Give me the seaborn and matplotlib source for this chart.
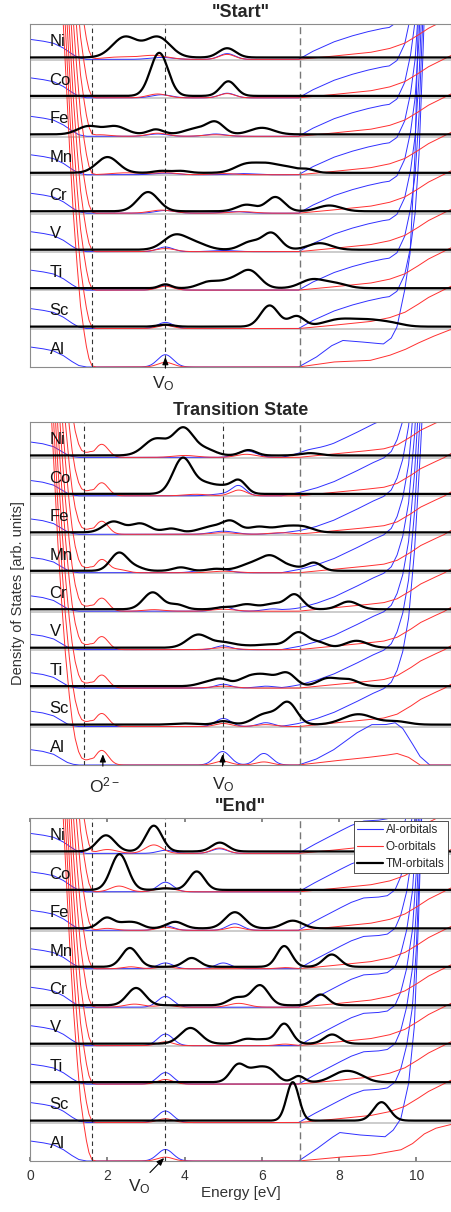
import numpy as np
import pandas as pd
import matplotlib
matplotlib.use("Agg")
import matplotlib.pyplot as plt
from matplotlib.lines import Line2D
import seaborn as sns

sns.set_theme(style="white")
plt.rcParams["font.family"] = ["Liberation Sans", "DejaVu Sans"]
plt.rcParams["mathtext.default"] = "regular"

ELEMENTS = ["Ni", "Co", "Fe", "Mn", "Cr", "V", "Ti", "Sc", "Al"]
TITLES = ['"Start"', "Transition State", '"End"']
ENERGY_TICKS = [0, 2, 4, 6, 8, 10]
MARKERS = [[1.6, 3.5, 7.0], [1.4, 5.0, 7.0], [1.6, 3.5, 7.0]]

# band edges (energy in eV, DOS in row units), one list per panel
VB_AL_E = [[0, 0.3, 0.6, 0.85, 1.05, 1.25, 1.45],
           [0, 0.3, 0.6, 0.8, 0.95, 1.1, 1.25],
           [0, 0.3, 0.6, 0.85, 1.05, 1.25, 1.45]]
VB_AL_H = [[0.52, 0.48, 0.42, 0.3, 0.16, 0.04, 0],
           [0.4, 0.36, 0.28, 0.16, 0.07, 0.02, 0],
           [0.52, 0.48, 0.42, 0.3, 0.16, 0.04, 0]]
VB_O_E = [[0.8, 0.9, 1.0, 1.1, 1.2, 1.3, 1.38, 1.45, 1.52, 1.6, 1.7],
          [0.5, 0.6, 0.7, 0.8, 0.9, 1.0, 1.08, 1.16, 1.25, 1.33, 1.42, 1.55, 1.65],
          [0.8, 0.9, 1.0, 1.1, 1.2, 1.3, 1.38, 1.45, 1.52, 1.6, 1.7]]
VB_O_H = [[10, 8, 6, 4.2, 2.8, 1.6, 1.0, 0.55, 0.22, 0.03, 0],
          [10, 8, 6, 4.4, 3.0, 1.9, 1.2, 0.7, 0.35, 0.18, 0.12, 0.08, 0],
          [10, 8, 6, 4.2, 2.8, 1.6, 1.0, 0.55, 0.22, 0.03, 0]]
CB_AL_E = [[6.95, 7.3, 7.85, 8.3, 8.7, 9.1, 9.3, 9.5, 9.7, 9.85, 9.97, 10.07, 10.17, 10.3],
           [6.5, 6.95, 7.4, 7.85, 8.4, 8.85, 9.15, 9.35, 9.5, 9.65, 9.8, 9.95, 10.1, 10.3],
           [6.95, 7.3, 7.85, 8.3, 8.63, 9.0, 9.25, 9.45, 9.6, 9.75, 9.9, 10.0, 10.1, 10.25]]
CB_AL_H = [[0, 0.2, 0.45, 0.6, 0.71, 0.8, 0.83, 0.97, 1.4, 2.1, 3.0, 4.5, 7, 11],
           [0, 0.08, 0.2, 0.36, 0.62, 0.85, 0.98, 1.15, 1.45, 1.95, 2.8, 4.5, 7, 11],
           [0, 0.2, 0.49, 0.72, 0.84, 0.86, 0.9, 1.05, 1.4, 2.0, 3.0, 4.5, 7, 11]]
CB_AL_BOTTOM_E = [[6.95, 7.4, 7.8, 8.1, 8.5, 8.9, 9.15, 9.35, 9.5, 9.7, 9.84, 9.97, 10.05, 10.2],
                  [6.95, 7.4, 7.85, 8.45, 8.85, 9.2, 9.45, 9.65, 9.84, 10.1, 10.35],
                  [6.95, 7.4, 7.8, 8.02, 8.5, 9.19, 9.4, 9.6, 9.8, 9.95, 10.05, 10.2]]
CB_AL_BOTTOM_H = [[0, 0.25, 0.55, 0.69, 0.66, 0.62, 0.6, 0.75, 1.04, 2.0, 2.96, 5.6, 9, 13],
                  [0, 0.15, 0.39, 0.83, 1.05, 1.05, 1.1, 0.95, 0.65, 0.22, 0],
                  [0, 0.3, 0.6, 0.74, 0.68, 0.63, 0.8, 1.1, 2.0, 3.5, 6, 11]]
CB_O_E = [[6.95, 7.5, 8.2, 8.8, 9.3, 9.7, 10.0, 10.3, 10.6, 10.9],
          [6.95, 7.85, 8.5, 9.15, 9.5, 9.84, 10.1, 10.45, 10.7, 10.9],
          [6.95, 7.5, 8.2, 8.8, 9.3, 9.7, 10.0, 10.3, 10.6, 10.9]]
CB_O_H = [[0, 0.05, 0.12, 0.18, 0.28, 0.42, 0.6, 0.8, 0.95, 1.1],
          [0, 0.09, 0.15, 0.22, 0.32, 0.52, 0.7, 0.87, 0.98, 1.1],
          [0, 0.05, 0.12, 0.18, 0.28, 0.42, 0.6, 0.8, 0.95, 1.1]]
CB_O_BOTTOM_E = [[6.95, 7.85, 8.8, 9.3, 9.7, 10.0, 10.4, 10.85, 10.9],
                 [6.95, 7.8, 8.6, 9.2, 9.5, 9.8, 10.1],
                 [6.95, 8.0, 8.8, 9.6, 9.9, 10.2, 10.5, 10.9]]
CB_O_BOTTOM_H = [[0, 0.13, 0.17, 0.3, 0.45, 0.6, 0.78, 0.96, 0.97],
                 [0, 0.1, 0.18, 0.25, 0.3, 0.2, 0],
                 [0, 0.1, 0.15, 0.29, 0.45, 0.7, 0.85, 0.95]]

# gap states per row (Ni ... Al): (energy, height, width)
START_TM = [
    [(2.45, 0.53, 0.32), (3.3, 0.53, 0.32), (5.1, 0.24, 0.22)],
    [(3.34, 1.12, 0.23), (5.13, 0.38, 0.2)],
    [(1.5, 0.21, 0.28), (2.2, 0.21, 0.28), (3.25, 0.13, 0.2), (4.3, 0.15, 0.3), (4.8, 0.3, 0.22), (6.0, 0.17, 0.3)],
    [(2.0, 0.41, 0.28), (3.4, 0.05, 0.2), (3.9, 0.05, 0.2), (5.6, 0.22, 0.3), (6.2, 0.22, 0.3), (6.7, 0.1, 0.2), (7.15, 0.1, 0.2)],
    [(3.05, 0.5, 0.27), (5.6, 0.17, 0.25), (6.35, 0.37, 0.23), (7.75, 0.15, 0.3)],
    [(3.75, 0.37, 0.3), (4.3, 0.15, 0.3), (5.7, 0.2, 0.25), (6.25, 0.43, 0.23), (7.5, 0.17, 0.3)],
    [(3.5, 0.1, 0.15), (4.6, 0.15, 0.25), (5.2, 0.2, 0.3), (5.7, 0.42, 0.26), (7.3, 0.22, 0.3), (7.9, 0.12, 0.3)],
    [(3.5, 0.05, 0.2), (6.2, 0.55, 0.23), (6.9, 0.27, 0.2), (8.0, 0.18, 0.4), (8.8, 0.16, 0.4), (9.4, 0.06, 0.3)],
    [],
]
START_AL = [
    [(3.4, 0.05, 0.3), (5.1, 0.15, 0.2)],
    [(3.4, 0.08, 0.25), (5.1, 0.12, 0.2)],
    [(3.3, 0.06, 0.25), (4.8, 0.06, 0.25)],
    [(3.5, 0.04, 0.3), (5.5, 0.03, 0.3)],
    [(3.5, 0.07, 0.25), (5.3, 0.04, 0.3)],
    [(3.5, 0.12, 0.2), (5.0, 0.03, 0.3)],
    [(3.5, 0.13, 0.2)],
    [(3.5, 0.16, 0.2)],
    [(3.5, 0.32, 0.2)],
]
START_O = [
    [(2.3, 0.06, 0.4), (3.2, 0.1, 0.35), (5.1, 0.13, 0.2)],
    [(3.3, 0.1, 0.25), (5.1, 0.11, 0.2)],
    [(1.8, 0.04, 0.25), (3.3, 0.08, 0.25), (4.8, 0.04, 0.3)],
    [(2.5, 0.05, 0.4), (3.5, 0.05, 0.3), (5.0, 0.03, 0.3)],
    [(3.4, 0.08, 0.3), (5.5, 0.04, 0.3)],
    [(3.5, 0.08, 0.25)],
    [(3.5, 0.1, 0.2)],
    [(3.5, 0.08, 0.2)],
    [(3.5, 0.12, 0.2)],
]
TS_TM = [
    [(3.25, 0.43, 0.3), (3.97, 0.7, 0.26), (4.55, 0.15, 0.25), (5.65, 0.14, 0.2), (7.25, 0.06, 0.25)],
    [(3.95, 0.93, 0.25), (4.55, 0.25, 0.25), (5.0, 0.15, 0.2), (5.4, 0.35, 0.19)],
    [(2.15, 0.28, 0.25), (2.85, 0.23, 0.25), (3.65, 0.1, 0.2), (4.7, 0.15, 0.3), (5.2, 0.27, 0.22), (5.9, 0.14, 0.25), (6.6, 0.15, 0.3), (7.1, 0.12, 0.25)],
    [(2.3, 0.47, 0.22), (2.75, 0.08, 0.2), (3.9, 0.09, 0.2), (4.8, 0.05, 0.2), (5.8, 0.2, 0.35), (6.25, 0.3, 0.25), (6.75, 0.1, 0.25), (7.35, 0.21, 0.2)],
    [(3.17, 0.44, 0.24), (3.8, 0.12, 0.2), (5.0, 0.05, 0.2), (5.6, 0.13, 0.25), (6.3, 0.14, 0.25), (6.85, 0.38, 0.21), (8.25, 0.2, 0.25)],
    [(4.35, 0.34, 0.28), (5.0, 0.12, 0.25), (5.5, 0.05, 0.3), (6.2, 0.08, 0.3), (6.95, 0.4, 0.25), (7.5, 0.12, 0.2), (8.45, 0.18, 0.28)],
    [(4.6, 0.1, 0.25), (4.95, 0.15, 0.2), (5.7, 0.25, 0.3), (6.15, 0.2, 0.25), (6.65, 0.33, 0.22), (7.7, 0.2, 0.25), (8.25, 0.17, 0.25)],
    [(4.0, 0.03, 0.3), (5.0, 0.09, 0.2), (6.1, 0.28, 0.3), (6.68, 0.55, 0.23), (8.5, 0.27, 0.4), (9.5, 0.08, 0.3)],
    [],
]
TS_AL = [
    [(5.6, 0.17, 0.25), (7.2, 0.05, 0.25)],
    [(5.0, 0.05, 0.3), (5.4, 0.25, 0.18)],
    [(5.0, 0.08, 0.3), (6.5, 0.03, 0.3)],
    [(4.6, 0.08, 0.3), (5.0, 0.06, 0.2)],
    [(5.0, 0.12, 0.2), (6.3, 0.06, 0.25)],
    [(5.0, 0.1, 0.2)],
    [(5.0, 0.1, 0.2), (6.1, 0.05, 0.25)],
    [(5.0, 0.21, 0.2), (6.1, 0.1, 0.2)],
    [(4.98, 0.35, 0.2), (6.05, 0.3, 0.2)],
]
TS_O = [
    [(1.85, 0.34, 0.17), (4.0, 0.05, 0.3), (5.6, 0.08, 0.25)],
    [(1.85, 0.34, 0.17), (4.3, 0.04, 0.3), (5.4, 0.15, 0.2)],
    [(1.85, 0.34, 0.17), (5.0, 0.04, 0.3), (6.5, 0.04, 0.3)],
    [(1.85, 0.34, 0.17), (2.3, 0.08, 0.2), (5.0, 0.04, 0.3)],
    [(1.85, 0.34, 0.17), (3.2, 0.04, 0.25), (5.0, 0.05, 0.3)],
    [(1.85, 0.34, 0.17), (5.0, 0.05, 0.3)],
    [(1.85, 0.34, 0.17), (5.0, 0.05, 0.3)],
    [(1.85, 0.34, 0.17), (5.0, 0.08, 0.2), (6.1, 0.05, 0.25)],
    [(1.85, 0.38, 0.17), (4.98, 0.1, 0.2), (6.05, 0.08, 0.2)],
]
END_TM = [
    [(1.96, 0.42, 0.23), (3.2, 0.67, 0.21), (4.91, 0.23, 0.21)],
    [(2.31, 0.93, 0.22), (3.5, 0.04, 0.2), (4.31, 0.48, 0.2)],
    [(1.98, 0.28, 0.2), (2.45, 0.12, 0.18), (2.75, 0.12, 0.18), (3.75, 0.17, 0.22), (5.3, 0.42, 0.25), (6.8, 0.2, 0.25)],
    [(2.58, 0.49, 0.21), (4.18, 0.23, 0.2), (6.58, 0.54, 0.19), (7.81, 0.32, 0.21)],
    [(2.74, 0.45, 0.23), (5.35, 0.2, 0.22), (5.95, 0.52, 0.22), (7.52, 0.28, 0.19)],
    [(4.15, 0.41, 0.26), (5.6, 0.12, 0.2), (6.05, 0.1, 0.2), (6.58, 0.52, 0.19), (7.82, 0.24, 0.21)],
    [(5.39, 0.46, 0.2), (5.85, 0.3, 0.2), (6.2, 0.3, 0.2), (6.95, 0.16, 0.15), (8.1, 0.25, 0.3), (8.5, 0.12, 0.25)],
    [(6.8, 1.0, 0.16), (9.1, 0.48, 0.21)],
    [],
]
END_AL = [
    [(3.5, 0.08, 0.2), (4.9, 0.12, 0.2)],
    [(3.5, 0.25, 0.2)],
    [(3.5, 0.12, 0.2), (5.3, 0.17, 0.2)],
    [(3.5, 0.15, 0.2), (5.0, 0.15, 0.2)],
    [(3.5, 0.28, 0.2)],
    [(3.5, 0.3, 0.2)],
    [(3.5, 0.3, 0.2)],
    [(3.5, 0.3, 0.2)],
    [(3.5, 0.3, 0.2)],
]
END_O = [
    [(2.0, 0.1, 0.25), (3.2, 0.22, 0.22), (4.9, 0.14, 0.2)],
    [(2.3, 0.15, 0.22), (3.5, 0.1, 0.25)],
    [(2.0, 0.05, 0.2), (3.5, 0.08, 0.2), (5.3, 0.08, 0.2)],
    [(2.6, 0.05, 0.2), (3.5, 0.05, 0.2), (6.6, 0.03, 0.2)],
    [(2.7, 0.08, 0.25), (3.5, 0.05, 0.2), (5.4, 0.1, 0.25)],
    [(3.5, 0.1, 0.2), (6.6, 0.04, 0.2)],
    [(3.5, 0.12, 0.2)],
    [(3.5, 0.1, 0.2)],
    [(3.5, 0.1, 0.2)],
]

TM_STATES = [START_TM, TS_TM, END_TM]
AL_STATES = [START_AL, TS_AL, END_AL]
O_STATES = [START_O, TS_O, END_O]

BLUE = "#3030ff"
RED = "#ff3030"

energy = np.linspace(0, 10.9, 1500)


def broaden(states):
    y = np.zeros_like(energy)
    for c, h, w in states:
        y += h * np.exp(-0.5 * ((energy - c) / w) ** 2)
    return y


def panel_frame(p):
    frames = []
    for i, el in enumerate(ELEMENTS):
        off = len(ELEMENTS) - 1 - i
        bottom = el == "Al"
        cb_al = (CB_AL_BOTTOM_E[p], CB_AL_BOTTOM_H[p]) if bottom else (CB_AL_E[p], CB_AL_H[p])
        cb_o = (CB_O_BOTTOM_E[p], CB_O_BOTTOM_H[p]) if bottom else (CB_O_E[p], CB_O_H[p])
        al = (np.interp(energy, VB_AL_E[p], VB_AL_H[p], right=0)
              + np.interp(energy, cb_al[0], cb_al[1], left=0)
              + broaden(AL_STATES[p][i]))
        ox = (np.interp(energy, VB_O_E[p], VB_O_H[p], right=0)
              + np.interp(energy, cb_o[0], cb_o[1], left=0)
              + broaden(O_STATES[p][i]))
        frames.append(pd.DataFrame({"energy": energy, "dos": al + off,
                                    "element": el, "orbital": "Al"}))
        frames.append(pd.DataFrame({"energy": energy, "dos": ox + off,
                                    "element": el, "orbital": "O"}))
        if not bottom:
            tm = 0.05 + broaden(TM_STATES[p][i])
            frames.append(pd.DataFrame({"energy": energy, "dos": tm + off,
                                        "element": el, "orbital": "TM"}))
    return pd.concat(frames, ignore_index=True)


fig = plt.figure(figsize=(4.51, 12.12), dpi=100)
lefts = 30.3 / 451
width = 1 - lefts
bottoms = [1 - 367 / 1212, 1 - 765 / 1212, 1 - 1161 / 1212]
height = 343 / 1212
axes = [fig.add_axes([lefts, b, width, height]) for b in bottoms]

for p, ax in enumerate(axes):
    df = panel_frame(p)
    for i in range(1, len(ELEMENTS)):
        ax.axhline(i - 0.01, color="#c4c4c4", lw=1.2, zorder=1)
    for orb, col, lw in [("Al", BLUE, 0.7), ("O", RED, 0.7), ("TM", "black", 1.6)]:
        sns.lineplot(data=df[df["orbital"] == orb], x="energy", y="dos",
                     units="element", estimator=None, color=col, linewidth=lw,
                     ax=ax, legend=False, zorder=3 if orb == "TM" else 2)
    for k, v in enumerate(MARKERS[p]):
        if k < 2:
            ax.axvline(v, color="#333333", lw=0.8, ls=(0, (4, 3)), zorder=2.5)
        else:
            ax.axvline(v, color="#777777", lw=1.0, ls=(0, (5, 3)), zorder=2.5)
    for i, el in enumerate(ELEMENTS):
        ax.text(0.5, len(ELEMENTS) - 1 - i + 0.46, el, fontsize=12,
                va="center", ha="left", color="#111111", zorder=4)

    ax.set_xlim(0, 10.9)
    ax.set_ylim(0, 8.92)
    ax.set_yticks([])
    ax.set_xlabel("")
    ax.set_ylabel("")
    for s in ax.spines.values():
        s.set_color("#8c8c8c")
        s.set_linewidth(0.8)
    ax.set_title(TITLES[p], fontsize=13, fontweight="bold", pad=5)
    if p < 2:
        ax.set_xticks([])

arrow = dict(arrowstyle="-|>,head_length=0.5,head_width=0.2", color="black",
             lw=0.8, shrinkA=0, shrinkB=0, mutation_scale=9)

# "Start"
ax = axes[0]
ax.annotate("", xy=(3.5, 0.26), xytext=(3.5, -0.03), arrowprops=arrow, annotation_clip=False)
ax.text(3.45, -0.2, "V$_{O}$", ha="center", va="top", fontsize=12.5)

# Transition state
ax = axes[1]
ax.set_ylabel("Density of States [arb. units]", fontsize=10.5, labelpad=4, color="#333333")
ax.annotate("", xy=(1.88, 0.28), xytext=(1.88, -0.03), arrowprops=arrow, annotation_clip=False)
ax.annotate("", xy=(4.98, 0.28), xytext=(4.98, -0.03), arrowprops=arrow, annotation_clip=False)
ax.text(1.92, -0.28, "O$^{2-}$", ha="center", va="top", fontsize=12.5)
ax.text(5.0, -0.28, "V$_{O}$", ha="center", va="top", fontsize=12.5)

# "End"
ax = axes[2]
ax.annotate("", xy=(3.47, 0.08), xytext=(3.1, -0.3), arrowprops=arrow, annotation_clip=False)
ax.text(2.82, -0.68, "V$_{O}$", ha="center", va="center", fontsize=12.5)
ax.set_xticks(ENERGY_TICKS)
ax.set_xticklabels([str(t) for t in ENERGY_TICKS])
ax.tick_params(axis="x", direction="in", top=True, bottom=True, length=3,
               color="#777777", labelsize=10, labelcolor="#333333", pad=6)
ax.set_xlabel("Energy [eV]", fontsize=11, labelpad=2, color="#333333")
handles = [Line2D([], [], color=BLUE, lw=0.8),
           Line2D([], [], color=RED, lw=0.8),
           Line2D([], [], color="black", lw=1.6)]
leg = ax.legend(handles, ["Al-orbitals", "O-orbitals", "TM-orbitals"], loc="upper right",
                fontsize=8.5, frameon=True, fancybox=False, framealpha=1,
                edgecolor="#333333", borderpad=0.3, labelspacing=0.4,
                handlelength=2.2, handletextpad=0.2, borderaxespad=0.25)
leg.get_frame().set_linewidth(0.6)
leg.set_zorder(10)

fig.savefig("out.png", dpi=100)
